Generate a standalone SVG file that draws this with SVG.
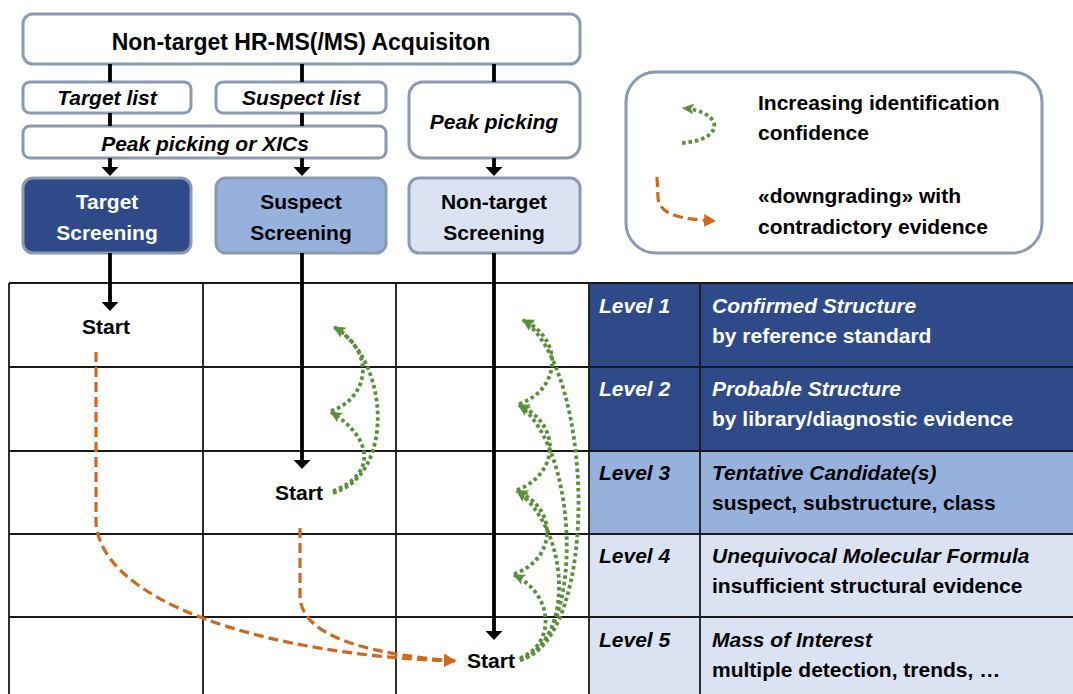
<svg xmlns="http://www.w3.org/2000/svg" width="1073" height="694" viewBox="0 0 1073 694">
<defs>
<style>
.t{font-family:"Liberation Sans",Arial,sans-serif;font-weight:bold;font-size:21px;fill:#000}
.i{font-style:italic}
.w{fill:#fff}
.c{text-anchor:middle}
.box{stroke:#8a9ab2;stroke-width:3}
.grid{stroke:#1a1a1a;stroke-width:1.8;fill:none}
.k{stroke:#000;stroke-width:3.8;fill:none}
.g{stroke:#5a8f3b;stroke-width:3.8;stroke-dasharray:3.5 3;fill:none}
.o{stroke:#d0691f;stroke-width:3.2;stroke-dasharray:10 5;fill:none}
</style>
<marker id="ak" viewBox="0 0 9 17" refX="0" refY="8.5" markerWidth="9" markerHeight="17" markerUnits="userSpaceOnUse" orient="auto"><path d="M0,0 L9,8.5 L0,17 z" fill="#000"/></marker>
<marker id="ag" viewBox="0 0 12 11" refX="11" refY="5.5" markerWidth="12" markerHeight="11" markerUnits="userSpaceOnUse" orient="auto"><path d="M0,0 L12,5.5 L0,11 L3,5.5 z" fill="#5a8f3b"/></marker>
<marker id="ao" viewBox="0 0 12 13" refX="11" refY="6.5" markerWidth="12" markerHeight="13" markerUnits="userSpaceOnUse" orient="auto"><path d="M0,0 L12,6.5 L0,13 z" fill="#d0691f"/></marker>
</defs>
<rect width="1073" height="694" fill="#fff"/>

<g id="levels">
<rect x="589" y="283" width="484" height="168" fill="#2e4a88"/>
<rect x="589" y="451" width="484" height="83" fill="#95b1dc"/>
<rect x="589" y="534" width="484" height="160" fill="#dbe2f1"/>
<text class="t i w" x="599" y="313">Level 1</text>
<text class="t i w" x="712" y="313">Confirmed Structure</text>
<text class="t w" x="712" y="343">by reference standard</text>
<text class="t i w" x="599" y="396">Level 2</text>
<text class="t i w" x="712" y="396">Probable Structure</text>
<text class="t w" x="712" y="426">by library/diagnostic evidence</text>
<text class="t i" x="599" y="480">Level 3</text>
<text class="t i" x="712" y="480">Tentative Candidate(s)</text>
<text class="t" x="712" y="510">suspect, substructure, class</text>
<text class="t i" x="599" y="563">Level 4</text>
<text class="t i" x="712" y="563">Unequivocal Molecular Formula</text>
<text class="t" x="712" y="593">insufficient structural evidence</text>
<text class="t i" x="599" y="647">Level 5</text>
<text class="t i" x="712" y="647">Mass of Interest</text>
<text class="t" x="712" y="677">multiple detection, trends, …</text>
</g>

<g id="grid" class="grid">
<path d="M9,283 H1073 M9,367 H1073 M9,451 H1073 M9,534 H1073 M9,617 H1073"/>
<path d="M9,283 V694 M203,283 V694 M396,283 V694 M589,283 V694 M700,283 V694"/>
</g>

<g id="acquisition">
<rect class="box" x="23" y="14" width="557" height="50" rx="10" fill="#fff"/>
<text class="t c" x="301" y="50" style="font-size:23px">Non-target HR-MS(/MS) Acquisiton</text>
</g>
<g id="target-list">
<rect class="box" x="23" y="82" width="168" height="31" rx="7" fill="#fff"/>
<text class="t i c" x="107" y="105">Target list</text>
</g>
<g id="suspect-list">
<rect class="box" x="216" y="82" width="170" height="31" rx="7" fill="#fff"/>
<text class="t i c" x="301" y="105">Suspect list</text>
</g>
<g id="peak-xic">
<rect class="box" x="23" y="126" width="363" height="32" rx="7" fill="#fff"/>
<text class="t i c" x="205" y="151">Peak picking or XICs</text>
</g>
<g id="peak-picking">
<rect class="box" x="409" y="82" width="171" height="76" rx="14" fill="#fff"/>
<text class="t i c" x="494" y="129">Peak picking</text>
</g>
<g id="target-screening">
<rect class="box" x="23" y="178" width="168" height="75" rx="10" fill="#2e4a88"/>
<text class="t c w" x="107" y="209">Target</text>
<text class="t c w" x="107" y="240">Screening</text>
</g>
<g id="suspect-screening">
<rect class="box" x="216" y="178" width="170" height="75" rx="10" fill="#95b1dc"/>
<text class="t c" x="301" y="209">Suspect</text>
<text class="t c" x="301" y="240">Screening</text>
</g>
<g id="nontarget-screening">
<rect class="box" x="409" y="178" width="171" height="75" rx="10" fill="#dbe2f1"/>
<text class="t c" x="494" y="209">Non-target</text>
<text class="t c" x="494" y="240">Screening</text>
</g>

<g id="legend">
<rect x="626" y="72" width="416" height="181" rx="30" fill="#fff" stroke="#8a9ab2" stroke-width="3"/>
<path class="g" d="M682,143 C725,140 725,112 683,108" marker-end="url(#ag)"/>
<path class="o" d="M657,177 L658,198 C660,215 680,219 715,221" marker-end="url(#ao)"/>
<text class="t" x="758" y="110">Increasing identification</text>
<text class="t" x="758" y="140">confidence</text>
<text class="t" x="758" y="203">«downgrading» with</text>
<text class="t" x="758" y="234">contradictory evidence</text>
</g>

<g id="starts">
<text class="t c" x="106" y="334">Start</text>
<text class="t c" x="299" y="500">Start</text>
<text class="t c" x="491" y="668">Start</text>
</g>

<g id="connectors">
<path class="k" d="M110,64 V82 M110,113 V126 M302,64 V82 M302,113 V126 M494,64 V82"/>
<path class="k" d="M110,158 V167" marker-end="url(#ak)"/>
<path class="k" d="M302,158 V167" marker-end="url(#ak)"/>
<path class="k" d="M494,158 V167" marker-end="url(#ak)"/>
<path class="k" d="M110,253 V302" marker-end="url(#ak)"/>
<path class="k" d="M302,253 V460" marker-end="url(#ak)"/>
<path class="k" d="M494,253 V631" marker-end="url(#ak)"/>
<path class="o" d="M96,352 L96,522 C100,600 260,655 455,661" marker-end="url(#ao)"/>
<path class="o" d="M300,528 L300,597 C302,640 380,655 455,661" marker-end="url(#ao)"/>
<path class="g" d="M333,493 C395,475 390,360 334,327" marker-end="url(#ag)"/>
<path class="g" d="M333,491 C375,475 375,440 331,412" marker-end="url(#ag)"/>
<path class="g" d="M331,411 C365,400 380,355 334,327" marker-end="url(#ag)"/>
<path class="g" d="M519,404 C560,390 565,340 523,320" marker-end="url(#ag)"/>
<path class="g" d="M517,490 C558,475 563,425 519,405" marker-end="url(#ag)"/>
<path class="g" d="M514,574 C555,560 560,510 517,491" marker-end="url(#ag)"/>
<path class="g" d="M520,658 C555,645 555,595 514,575" marker-end="url(#ag)"/>
<path class="g" d="M520,660 C600,640 595,370 523,320" marker-end="url(#ag)"/>
<path class="g" d="M520,660 C585,640 580,450 519,405" marker-end="url(#ag)"/>
<path class="g" d="M520,660 C575,640 570,530 517,491" marker-end="url(#ag)"/>
</g>
</svg>
